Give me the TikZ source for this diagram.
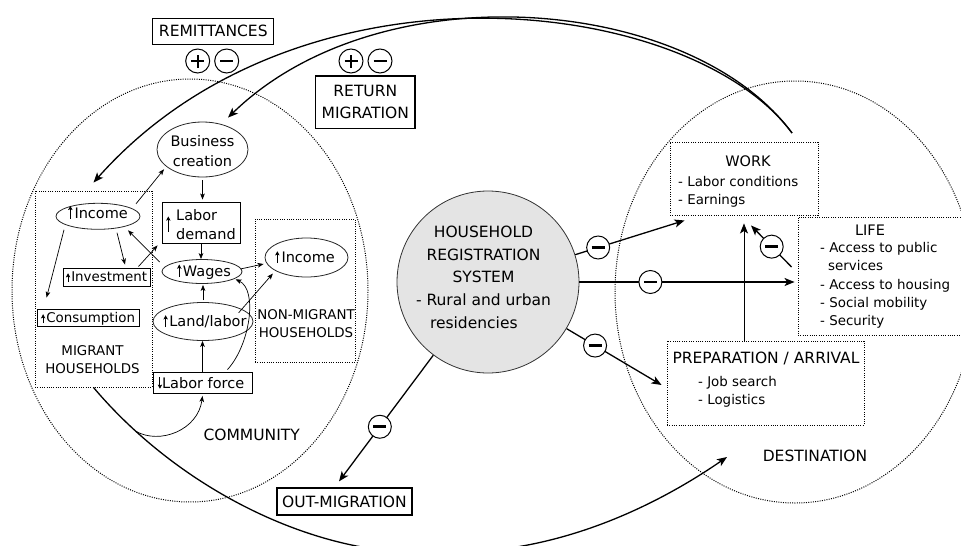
\documentclass[tikz,border=0pt]{standalone}
\usepackage{fontspec}
\setmainfont{DejaVu Sans}
\usetikzlibrary{shapes.geometric,arrows.meta}

\definecolor{hrsfill}{gray}{0.895}
\newcommand{\FBig}{\fontsize{15.5pt}{19pt}\selectfont}
\newcommand{\FMid}{\fontsize{14.5pt}{19pt}\selectfont}
\newcommand{\FSml}{\fontsize{13.4pt}{18.2pt}\selectfont}
% thin "increase" / "decrease" arrows set inside the text
\newcommand{\UpA}[1]{\tikz[baseline=0pt]\draw[line width=0.9pt,-{Stealth[length=4.2pt,width=4.4pt,inset=0.9pt]}] (0pt,-0.5pt) -- (0pt,#1);}
\newcommand{\DnA}[1]{\tikz[baseline=0pt]\draw[line width=0.9pt,-{Stealth[length=4.2pt,width=4.4pt,inset=0.9pt]}] (0pt,#1) -- (0pt,-0.5pt);}
% stacked lines whose first baseline is the box baseline
\newcommand{\Rows}[2][l]{\begin{tabular}[t]{@{}#1@{}}#2\end{tabular}}

\begin{document}
\begin{tikzpicture}[x=1pt,y=-1pt,
  region/.style={draw, ellipse, inner sep=0pt, line width=1pt, dash pattern=on 1pt off 1.3pt},
  dotbox/.style={draw, rectangle, inner sep=0pt, line width=0.9pt, dash pattern=on 1pt off 1.3pt},
  tagbox/.style={draw, rectangle, inner sep=0pt, line width=1.2pt, font=\FBig},
  ell/.style={draw=black!85, ellipse, inner sep=0pt, line width=0.8pt},
  rbox/.style={draw, rectangle, inner sep=0pt, line width=0.9pt},
  midtext/.style={inner sep=0pt, font=\FMid},
  bigtext/.style={inner sep=0pt, font=\FBig},
  smltext/.style={inner sep=0pt, font=\FSml},
  marr/.style={line width=1.3pt, -{Stealth[length=10pt,width=8pt,inset=2.5pt]}},
  sarr/.style={line width=0.7pt, -{Stealth[length=6pt,width=4.6pt,inset=1.5pt]}},
  signcirc/.style={circle, draw, solid, line width=1pt, fill=white, minimum size=23pt, inner sep=0pt},
  negsign/.style={signcirc, path picture={\draw[-, line width=2.6pt]
      ([xshift=-6.5pt]path picture bounding box.center) -- ([xshift=6.5pt]path picture bounding box.center);}},
  possign/.style={signcirc, path picture={\draw[-, line width=2pt]
      ([xshift=-6.5pt]path picture bounding box.center) -- ([xshift=6.5pt]path picture bounding box.center)
      ([yshift=-6.5pt]path picture bounding box.center) -- ([yshift=6.5pt]path picture bounding box.center);}},
]
\useasboundingbox (0,0) rectangle (961,546);

% ---------- the two areas ----------
\node[region, minimum width=356pt, minimum height=423pt] (community) at (190,290.5) {};
\node[region, minimum width=360pt, minimum height=422pt] (destination) at (795,292) {};
\node[bigtext, anchor=base] (comm-t) at (251.7,440) {COMMUNITY};
\node[bigtext, anchor=base] (dest-t) at (815,461.7) {DESTINATION};

% ---------- household registration system ----------
\node[circle, draw=black!80, line width=0.8pt, fill=hrsfill, minimum size=182pt, inner sep=0pt] (hrs) at (488,282) {};
\node[bigtext, anchor=base, font=\fontsize{15.5pt}{22.7pt}\selectfont] (hrs-t) at (483.5,237.3)
  {\Rows[c]{HOUSEHOLD\\REGISTRATION\\SYSTEM\\- Rural and urban\\\sbox0{- Rural and urban}\makebox[\wd0][l]{\hspace*{14pt}residencies}}};

% ---------- flow labels ----------
\node[tagbox, minimum width=121pt, minimum height=26pt] (remit) at (213.3,31.3) {REMITTANCES};
\node[possign, minimum size=24pt] (remit-p) at (197.7,61) {};
\node[negsign, minimum size=24pt] (remit-m) at (226.7,61) {};
\node[tagbox, minimum width=99.3pt, minimum height=52.3pt, align=center, font=\fontsize{15.5pt}{21.6pt}\selectfont] (retmig) at (365.3,102.2) {RETURN\\MIGRATION};
\node[possign, minimum size=24pt] (ret-p) at (351,61) {};
\node[negsign, minimum size=24pt] (ret-m) at (380,61) {};
\node[tagbox, minimum width=135pt, minimum height=27pt] (outmig) at (344.5,501.5) {OUT-MIGRATION};

% ---------- destination boxes ----------
\node[dotbox, minimum width=148pt, minimum height=73pt] (work) at (744,178.5) {};
\node[midtext, anchor=base] (work-t) at (748,166.7) {WORK};
\node[smltext, anchor=base west, font=\fontsize{13.4pt}{17.4pt}\selectfont] (work-l) at (678,186.7) {\Rows{- Labor conditions\\- Earnings}};

\node[dotbox, minimum width=166pt, minimum height=118pt] (life) at (881,276) {};
\node[midtext, anchor=base] (life-t) at (870,235) {LIFE};
\node[smltext, anchor=base west] (life-l) at (820,252.7)
  {\Rows{- Access to public\\\hspace*{8pt}services\\- Access to housing\\- Social mobility\\- Security}};

\node[dotbox, minimum width=197pt, minimum height=84pt] (prep) at (765.5,383) {};
\node[bigtext, anchor=base] (prep-t) at (766,363.3) {PREPARATION / ARRIVAL};
\node[smltext, anchor=base west] (prep-l) at (698,386) {\Rows{- Job search\\- Logistics}};

% ---------- community: households ----------
\node[dotbox, minimum width=117pt, minimum height=196pt] (migrant) at (93.5,289) {};
\node[smltext, anchor=base] (migrant-t) at (92.5,355) {\Rows[c]{MIGRANT\\HOUSEHOLDS}};
\node[dotbox, minimum width=100pt, minimum height=143pt] (nonmig) at (305,290.5) {};
\node[smltext, anchor=base] (nonmig-t) at (306,319.3) {\Rows[c]{NON-MIGRANT\\HOUSEHOLDS}};

% ---------- community: mechanisms ----------
\node[ell, minimum width=91pt, minimum height=55pt] (bus) at (202.5,149.5) {};
\node[midtext, anchor=base, font=\fontsize{14.5pt}{20pt}\selectfont] (bus-t) at (202.5,146.7) {\Rows[c]{Business\\creation}};

\node[rbox, minimum width=78pt, minimum height=41pt] (ldem) at (201,222.5) {};
\node[midtext, anchor=base west, font=\fontsize{14.5pt}{19.3pt}\selectfont] (ldem-t) at (176,220) {\Rows{Labor\\demand}};
\node[inner sep=0pt] (ldem-a) at (168.3,224.2) {\UpA{15pt}};

\node[ell, minimum width=80pt, minimum height=24pt] (wages) at (202,271.5) {};
\node[midtext, anchor=base] (wages-t) at (204,276) {\UpA{11.5pt}\hspace{1.5pt}Wages};

\node[ell, minimum width=100pt, minimum height=38pt] (land) at (203,321.5) {};
\node[midtext, anchor=base] (land-t) at (205,326.7) {\UpA{11.5pt}\hspace{1.5pt}Land/labor};

\node[rbox, minimum width=99pt, minimum height=21.5pt] (lforce) at (202.5,382.75) {};
\node[midtext, anchor=base] (lforce-t) at (201,388.3) {\DnA{11.5pt}Labor force};

\node[ell, minimum width=84pt, minimum height=26pt] (inc1) at (98,216.3) {};
\node[midtext, anchor=base] (inc1-t) at (98,218.3) {\UpA{12.5pt}\hspace{2pt}Income};

\node[rbox, minimum width=87pt, minimum height=18pt] (inv) at (106.5,277) {};
\node[smltext, anchor=base] (inv-t) at (106.5,281.7) {\UpA{8.5pt}\hspace{1pt}Investment};

\node[rbox, minimum width=102pt, minimum height=17pt] (cons) at (88,317.5) {};
\node[smltext, anchor=base] (cons-t) at (88,322.7) {\UpA{8.5pt}\hspace{1pt}Consumption};

\node[ell, minimum width=83pt, minimum height=39pt] (inc2) at (306.5,257.5) {};
\node[midtext, anchor=base] (inc2-t) at (305,262.7) {\UpA{11.5pt}\hspace{2pt}Income};

% ---------- community links ----------
\draw[sarr] ([shift={(8,-3)}]inc1.north east) -- ([shift={(-6,0)}]bus.south west);
\draw[sarr] ([shift={(-4,4)}]inc1.south west) -- ([shift={(10,-11)}]cons.north west);
\draw[sarr] ([shift={(19,3)}]inc1.south) -- ([shift={(18.5,-3)}]inv.north);
\draw[sarr] ([shift={(-2,-9.5)}]wages.west) -- ([shift={(0,4.5)}]inc1.south east);
\draw[sarr] ([shift={(-12,-1)}]inv.north east) -- ([shift={(-4,2)}]ldem.south west);
\draw[sarr] ([shift={(0,3)}]bus.south) -- ([shift={(0,-2)}]bus.south |- ldem.north);
\draw[sarr] (ldem.south) -- (ldem.south |- wages.north);
\draw[sarr] ([shift={(0,-2)}]land.north) -- ([shift={(0,1)}]land.north |- wages.south);
\draw[sarr] ([shift={(-2,-2.5)}]wages.east) -- ([shift={(-1,6.5)}]inc2.west);
\draw[sarr] ([shift={(0,5)}]land.north east) -- ([shift={(-4,2)}]inc2.south west);
\draw[sarr] (lforce.north) -- (lforce.north |- land.south);
\draw[sarr] ([shift={(25,-2)}]lforce.north) .. controls (250,345) and (258,290) .. ([shift={(5,-1)}]wages.south east);

% ---------- long flows ----------
\coordinate (dtop) at (792,133);
\coordinate (omtip) at (727,457);
\draw[marr] (dtop) .. controls (690,-5) and (300,-50) .. ([shift={(0,-8)}]migrant.north);
\draw[marr] (dtop) .. controls (690,-5) and (380,-30) .. ([shift={(25.5,-4)}]bus.north);
\draw[marr] (migrant.south) .. controls (180,490) and (320,560) .. (440,552) coordinate[pos=0.15] (omfork)
  .. controls (550,556) and (650,510) .. (omtip);
\draw[sarr] (omfork) .. controls (160,445) and (198,430) .. ([shift={(0,2)}]lforce.south);

% ---------- effects of the registration system ----------
\draw[marr] (hrs) -- ([shift={(15,5)}]work.south west) node[negsign, pos=0.21] (n-work) {};
\draw[marr] (hrs) -- ([shift={(-3,6)}]life.west) node[negsign, pos=0.33] (n-life) {};
\draw[marr] (hrs) -- ([shift={(-5,2)}]prep.west) node[negsign, pos=0.30] (n-prep) {};
\draw[marr] (hrs) -- ([shift={(-5.5,-6)}]outmig.north) node[negsign, pos=0.567] (n-out) {};
\draw[marr] ([shift={(-6,-9)}]life.west) -- ([shift={(7,10)}]work.south) node[negsign, pos=0.49] (n-lw) {};
\draw[marr, line width=0.9pt] (prep.north -| work.south) -- ([shift={(0,8)}]work.south);
\end{tikzpicture}
\end{document}
